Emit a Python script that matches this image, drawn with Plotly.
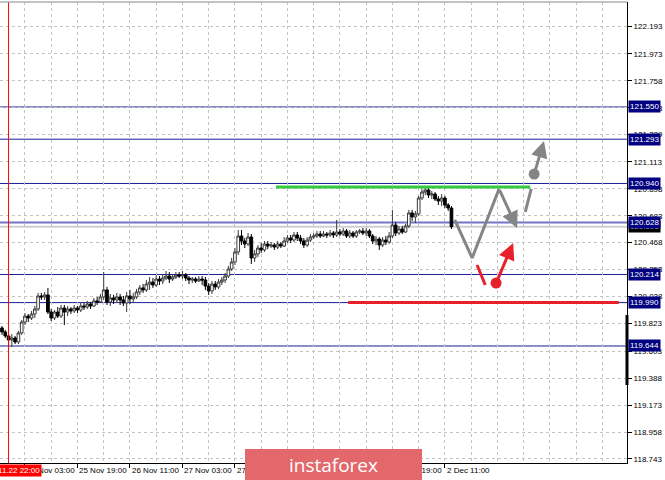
import plotly.graph_objects as go

# ---------------- data ----------------
OPEN = [119.788, 119.756, 119.724, 119.692, 119.708, 119.676, 119.748, 119.835, 119.883, 119.867,
        119.899, 119.939, 120.043, 120.035, 120.051, 119.915, 119.867, 119.915, 119.883, 119.947,
        119.915, 119.939, 119.923, 119.947, 119.931, 119.963, 119.955, 119.979, 119.963, 120.003,
        119.995, 120.035, 120.091, 119.995, 120.027, 120.011, 120.035, 120.011, 119.987, 120.043,
        120.019, 120.035, 120.075, 120.107, 120.091, 120.138, 120.154, 120.130, 120.178, 120.162,
        120.186, 120.202, 120.178, 120.194, 120.210, 120.202, 120.210, 120.186, 120.170, 120.178,
        120.162, 120.178, 120.170, 120.122, 120.083, 120.138, 120.115, 120.154, 120.170, 120.202,
        120.258, 120.314, 120.394, 120.521, 120.481, 120.457, 120.513, 120.346, 120.378, 120.425,
        120.410, 120.457, 120.441, 120.449, 120.433, 120.457, 120.441, 120.481, 120.505, 120.489,
        120.529, 120.505, 120.481, 120.449, 120.489, 120.513, 120.521, 120.537, 120.521, 120.537,
        120.529, 120.545, 120.529, 120.553, 120.537, 120.561, 120.521, 120.545, 120.521, 120.553,
        120.561, 120.545, 120.561, 120.521, 120.481, 120.497, 120.449, 120.489, 120.473, 120.521,
        120.609, 120.545, 120.577, 120.553, 120.601, 120.705, 120.673, 120.697, 120.824, 120.872,
        120.888, 120.848, 120.856, 120.816, 120.800, 120.824, 120.768, 120.744]
HIGH = [119.803, 119.772, 119.740, 119.740, 119.724, 119.764, 119.851, 119.907, 119.899, 119.923,
        119.963, 120.067, 120.067, 120.075, 120.107, 119.939, 119.931, 119.955, 119.971, 119.971,
        119.963, 119.955, 119.971, 119.963, 119.987, 119.987, 120.003, 119.995, 120.027, 120.035,
        120.059, 120.234, 120.115, 120.059, 120.051, 120.067, 120.059, 120.043, 120.075, 120.091,
        120.067, 120.099, 120.130, 120.138, 120.170, 120.194, 120.186, 120.210, 120.202, 120.218,
        120.242, 120.234, 120.218, 120.234, 120.234, 120.242, 120.226, 120.202, 120.194, 120.194,
        120.202, 120.202, 120.194, 120.146, 120.162, 120.162, 120.178, 120.194, 120.226, 120.282,
        120.346, 120.425, 120.569, 120.569, 120.505, 120.545, 120.537, 120.410, 120.449, 120.465,
        120.481, 120.481, 120.473, 120.465, 120.481, 120.473, 120.513, 120.529, 120.529, 120.553,
        120.553, 120.529, 120.505, 120.513, 120.537, 120.545, 120.561, 120.561, 120.561, 120.553,
        120.569, 120.561, 120.649, 120.577, 120.585, 120.577, 120.569, 120.561, 120.569, 120.577,
        120.585, 120.585, 120.577, 120.537, 120.521, 120.513, 120.513, 120.521, 120.553, 120.729,
        120.633, 120.601, 120.601, 120.617, 120.729, 120.729, 120.721, 120.840, 120.896, 120.912,
        120.904, 120.880, 120.872, 120.840, 120.856, 120.840, 120.784, 120.760]
LOW = [119.732, 119.708, 119.652, 119.636, 119.660, 119.660, 119.732, 119.811, 119.835, 119.851,
       119.867, 119.923, 120.011, 120.011, 119.899, 119.843, 119.851, 119.867, 119.867, 119.811,
       119.883, 119.899, 119.907, 119.907, 119.915, 119.931, 119.939, 119.939, 119.955, 119.971,
       119.987, 120.011, 119.971, 119.963, 119.979, 119.995, 119.971, 119.963, 119.915, 119.979,
       119.995, 120.019, 120.051, 120.067, 120.075, 120.091, 120.107, 120.115, 120.130, 120.138,
       120.170, 120.146, 120.162, 120.178, 120.186, 120.178, 120.162, 120.138, 120.146, 120.146,
       120.154, 120.130, 120.091, 120.051, 120.059, 120.091, 120.099, 120.130, 120.146, 120.186,
       120.242, 120.290, 120.370, 120.449, 120.425, 120.441, 120.298, 120.314, 120.354, 120.386,
       120.394, 120.417, 120.425, 120.410, 120.417, 120.425, 120.433, 120.465, 120.465, 120.473,
       120.481, 120.457, 120.425, 120.433, 120.473, 120.497, 120.505, 120.505, 120.513, 120.505,
       120.513, 120.505, 120.513, 120.521, 120.521, 120.505, 120.505, 120.505, 120.505, 120.537,
       120.529, 120.521, 120.505, 120.457, 120.449, 120.410, 120.433, 120.449, 120.457, 120.505,
       120.521, 120.529, 120.537, 120.545, 120.585, 120.641, 120.625, 120.681, 120.808, 120.848,
       120.824, 120.816, 120.800, 120.768, 120.760, 120.744, 120.721, 120.577]
CLOSE = [119.756, 119.724, 119.692, 119.708, 119.676, 119.748, 119.835, 119.883, 119.867, 119.899,
         119.939, 120.043, 120.035, 120.051, 119.915, 119.867, 119.915, 119.883, 119.947, 119.915,
         119.939, 119.923, 119.947, 119.931, 119.963, 119.955, 119.979, 119.963, 120.003, 119.995,
         120.035, 120.091, 119.995, 120.027, 120.011, 120.035, 120.011, 119.987, 120.043, 120.019,
         120.035, 120.075, 120.107, 120.091, 120.138, 120.154, 120.130, 120.178, 120.162, 120.186,
         120.202, 120.178, 120.194, 120.210, 120.202, 120.210, 120.186, 120.170, 120.178, 120.162,
         120.178, 120.170, 120.122, 120.083, 120.138, 120.115, 120.154, 120.170, 120.202, 120.258,
         120.314, 120.394, 120.521, 120.481, 120.457, 120.513, 120.346, 120.378, 120.425, 120.410,
         120.457, 120.441, 120.449, 120.433, 120.457, 120.441, 120.481, 120.505, 120.489, 120.529,
         120.505, 120.481, 120.449, 120.489, 120.513, 120.521, 120.537, 120.521, 120.537, 120.529,
         120.545, 120.529, 120.553, 120.537, 120.561, 120.521, 120.545, 120.521, 120.553, 120.561,
         120.545, 120.561, 120.521, 120.481, 120.497, 120.449, 120.489, 120.473, 120.521, 120.609,
         120.545, 120.577, 120.553, 120.601, 120.705, 120.673, 120.697, 120.824, 120.872, 120.888,
         120.848, 120.856, 120.816, 120.800, 120.824, 120.768, 120.744, 120.595]
BAR_INDEX = list(range(len(CLOSE)))  # hourly bars, 22 Nov 20:00 onwards

LEVELS = [121.550, 121.293, 120.940, 120.628, 120.214, 119.990, 119.644]
HIGHLIGHT_LEVEL = 120.628
CURRENT_PRICE = 120.595

Y_TICKS = [122.193, 121.973, 121.758, 121.543, 121.329, 121.113, 120.898, 120.683, 120.468,
           120.253, 120.038, 119.823, 119.603, 119.388, 119.173, 118.958, 118.743]

X_LABEL_IDX = [7, 23, 39, 55, 71, 87, 103, 119, 135]
X_LABELS = ["25 Nov 03:00", "25 Nov 19:00", "26 Nov 11:00", "27 Nov 03:00", "27 Nov 19:00",
            "28 Nov 11:00", "29 Nov 03:00", "29 Nov 19:00", "2 Dec 11:00"]
X_GRID_IDX = [15, 31, 47, 63, 79, 95, 111, 127, 143, 151, 159, 167, 175, 183]

MARKER_IDX = 2
MARKER_LABEL = "2024.11.22 22:00"

VOL_BAR = [119.891, 119.333]

GREEN_X = [83.5, 161.0]
GREEN_Y = 120.912
RED_X = [105.5, 188.0]
RED_Y = 119.990

ZIGZAG_X = [138.0, 143.3, 151.5]
ZIGZAG_Y = [120.649, 120.346, 120.896]
ZIGZAG_TIP = (157.0, 120.585)
GRAY_SEG_X = [159.5, 161.3]
GRAY_SEG_Y = [120.713, 120.896]
GRAY_DOT = (162.2, 121.015)
GRAY_TIP = (165.2, 121.278)
RED_SEG_X = [144.8, 147.3]
RED_SEG_Y = [120.290, 120.130]
RED_DOT = (150.6, 120.146)
RED_TIP = (155.8, 120.465)

# ---------------- styling ----------------
FONT = "Liberation Sans"
NAVY = "#1e1e9a"
GRID = "#c4c4c4"
GRAY = "#858585"
RED = "#e8202a"
GREEN = "#34c93c"

fig = go.Figure()

fig.add_trace(go.Candlestick(
    x=BAR_INDEX, open=OPEN, high=HIGH, low=LOW, close=CLOSE,
    increasing=dict(line=dict(color="#3a3a3a", width=1), fillcolor="#ffffff"),
    decreasing=dict(line=dict(color="#000000", width=1), fillcolor="#000000"),
    whiskerwidth=0, showlegend=False, hoverinfo="skip"))

fig.add_trace(go.Scatter(x=GREEN_X, y=[GREEN_Y, GREEN_Y], mode="lines",
                         line=dict(color=GREEN, width=3), showlegend=False, hoverinfo="skip"))
fig.add_trace(go.Scatter(x=RED_X, y=[RED_Y, RED_Y], mode="lines",
                         line=dict(color=RED, width=3), showlegend=False, hoverinfo="skip"))
fig.add_trace(go.Scatter(x=ZIGZAG_X, y=ZIGZAG_Y, mode="lines",
                         line=dict(color=GRAY, width=3), showlegend=False, hoverinfo="skip"))
fig.add_trace(go.Scatter(x=GRAY_SEG_X, y=GRAY_SEG_Y, mode="lines",
                         line=dict(color=GRAY, width=3), showlegend=False, hoverinfo="skip"))
fig.add_trace(go.Scatter(x=RED_SEG_X, y=RED_SEG_Y, mode="lines",
                         line=dict(color=RED, width=3), showlegend=False, hoverinfo="skip"))
fig.add_trace(go.Scatter(x=[GRAY_DOT[0]], y=[GRAY_DOT[1]], mode="markers",
                         marker=dict(color=GRAY, size=11), showlegend=False, hoverinfo="skip"))
fig.add_trace(go.Scatter(x=[RED_DOT[0]], y=[RED_DOT[1]], mode="markers",
                         marker=dict(color=RED, size=11), showlegend=False, hoverinfo="skip"))

shapes = []
for lv in LEVELS:
    if lv == HIGHLIGHT_LEVEL:
        shapes.append(dict(type="line", xref="paper", x0=0, x1=1, yref="y", y0=lv, y1=lv,
                           line=dict(color="#7474c6", width=2), layer="between"))
    else:
        shapes.append(dict(type="line", xref="paper", x0=0, x1=1, yref="y", y0=lv, y1=lv,
                           line=dict(color=NAVY, width=1), layer="between"))
shapes.append(dict(type="line", xref="paper", x0=0, x1=1, yref="y", y0=CURRENT_PRICE, y1=CURRENT_PRICE,
                   line=dict(color="#d0d0d0", width=2), layer="between"))
shapes.append(dict(type="line", xref="x", x0=MARKER_IDX, x1=MARKER_IDX, yref="paper", y0=0, y1=1,
                   line=dict(color="#ff0000", width=1), layer="above"))
shapes.append(dict(type="line", xref="paper", x0=1, x1=1, yref="y", y0=VOL_BAR[0], y1=VOL_BAR[1],
                   line=dict(color="#000000", width=3), layer="above"))
shapes.append(dict(type="line", xref="paper", x0=0, x1=1, yref="paper", y0=1, y1=1,
                   line=dict(color="#8a8a8a", width=1), layer="above"))

annotations = []
for idx, lab in zip(X_LABEL_IDX, X_LABELS):
    annotations.append(dict(x=idx, xref="x", y=0, yref="paper", yanchor="top", xanchor="left",
                            yshift=-1, text=lab, showarrow=False,
                            font=dict(family=FONT, size=8, color="#000000")))
annotations.append(dict(x=MARKER_IDX, xref="x", y=0, yref="paper", yanchor="top", xanchor="center",
                        yshift=-1, text=MARKER_LABEL, showarrow=False, bgcolor="#ff0000",
                        borderpad=1, font=dict(family=FONT, size=8, color="#ffffff")))
annotations.append(dict(x=1, xref="paper", xanchor="left", xshift=1, y=CURRENT_PRICE, yref="y",
                        text=f"{CURRENT_PRICE:.3f}", showarrow=False, bgcolor="#000000",
                        borderpad=1, font=dict(family=FONT, size=8, color="#ffffff")))
for lv in LEVELS:
    annotations.append(dict(x=1, xref="paper", xanchor="left", xshift=1, y=lv, yref="y",
                            text=f"{lv:.3f}", showarrow=False, bgcolor="#000080",
                            borderpad=1, font=dict(family=FONT, size=8, color="#ffffff")))
for tail, tip, col in [((ZIGZAG_X[-1], ZIGZAG_Y[-1]), ZIGZAG_TIP, GRAY),
                       (GRAY_DOT, GRAY_TIP, GRAY),
                       (RED_DOT, RED_TIP, RED)]:
    annotations.append(dict(x=tip[0], y=tip[1], xref="x", yref="y",
                            ax=tail[0], ay=tail[1], axref="x", ayref="y",
                            text="", showarrow=True, arrowhead=2, arrowsize=1.1,
                            arrowwidth=3, arrowcolor=col, standoff=0, startstandoff=0))
# watermark logo
annotations.append(dict(x=333.5 / 627, xref="paper", y=(463 - 464.5) / 461, yref="paper",
                        xanchor="center", yanchor="middle", text="instaforex", showarrow=False,
                        width=177, height=31, bgcolor="#e2686b", borderpad=0, borderwidth=0,
                        font=dict(family="Open Sans", size=19, color="#ffffff")))

fig.update_layout(
    width=665, height=480,
    margin=dict(l=0, r=38, t=2, b=17),
    paper_bgcolor="#ffffff", plot_bgcolor="#ffffff",
    showlegend=False,
    boxgap=0.1, boxgroupgap=0.1,
    shapes=shapes, annotations=annotations,
    xaxis=dict(
        range=[-0.61, 190.5], rangeslider=dict(visible=False),
        tickvals=X_LABEL_IDX, showticklabels=False,
        ticks="outside", ticklen=4, tickcolor="#000000", tickwidth=1,
        showgrid=True, gridcolor=GRID, griddash="3px,3px", gridwidth=1,
        minor=dict(tickvals=X_GRID_IDX, showgrid=True, gridcolor=GRID, griddash="3px,3px",
                   gridwidth=1, ticks=""),
        showline=True, linecolor="#000000", linewidth=1, zeroline=False, fixedrange=True),
    yaxis=dict(
        side="right", range=[118.711, 122.387],
        tickvals=Y_TICKS, ticktext=[f"{v:.3f}" for v in Y_TICKS],
        ticks="outside", ticklen=4, tickcolor="#000000",
        tickfont=dict(family=FONT, size=8, color="#000000"),
        showgrid=True, gridcolor=GRID, griddash="3px,3px", gridwidth=1,
        showline=True, linecolor="#000000", linewidth=1, zeroline=False, fixedrange=True),
)

fig.write_html("out.html", config={"displayModeBar": False},
               post_script="document.body.style.margin='0';document.body.style.overflow='hidden';")
